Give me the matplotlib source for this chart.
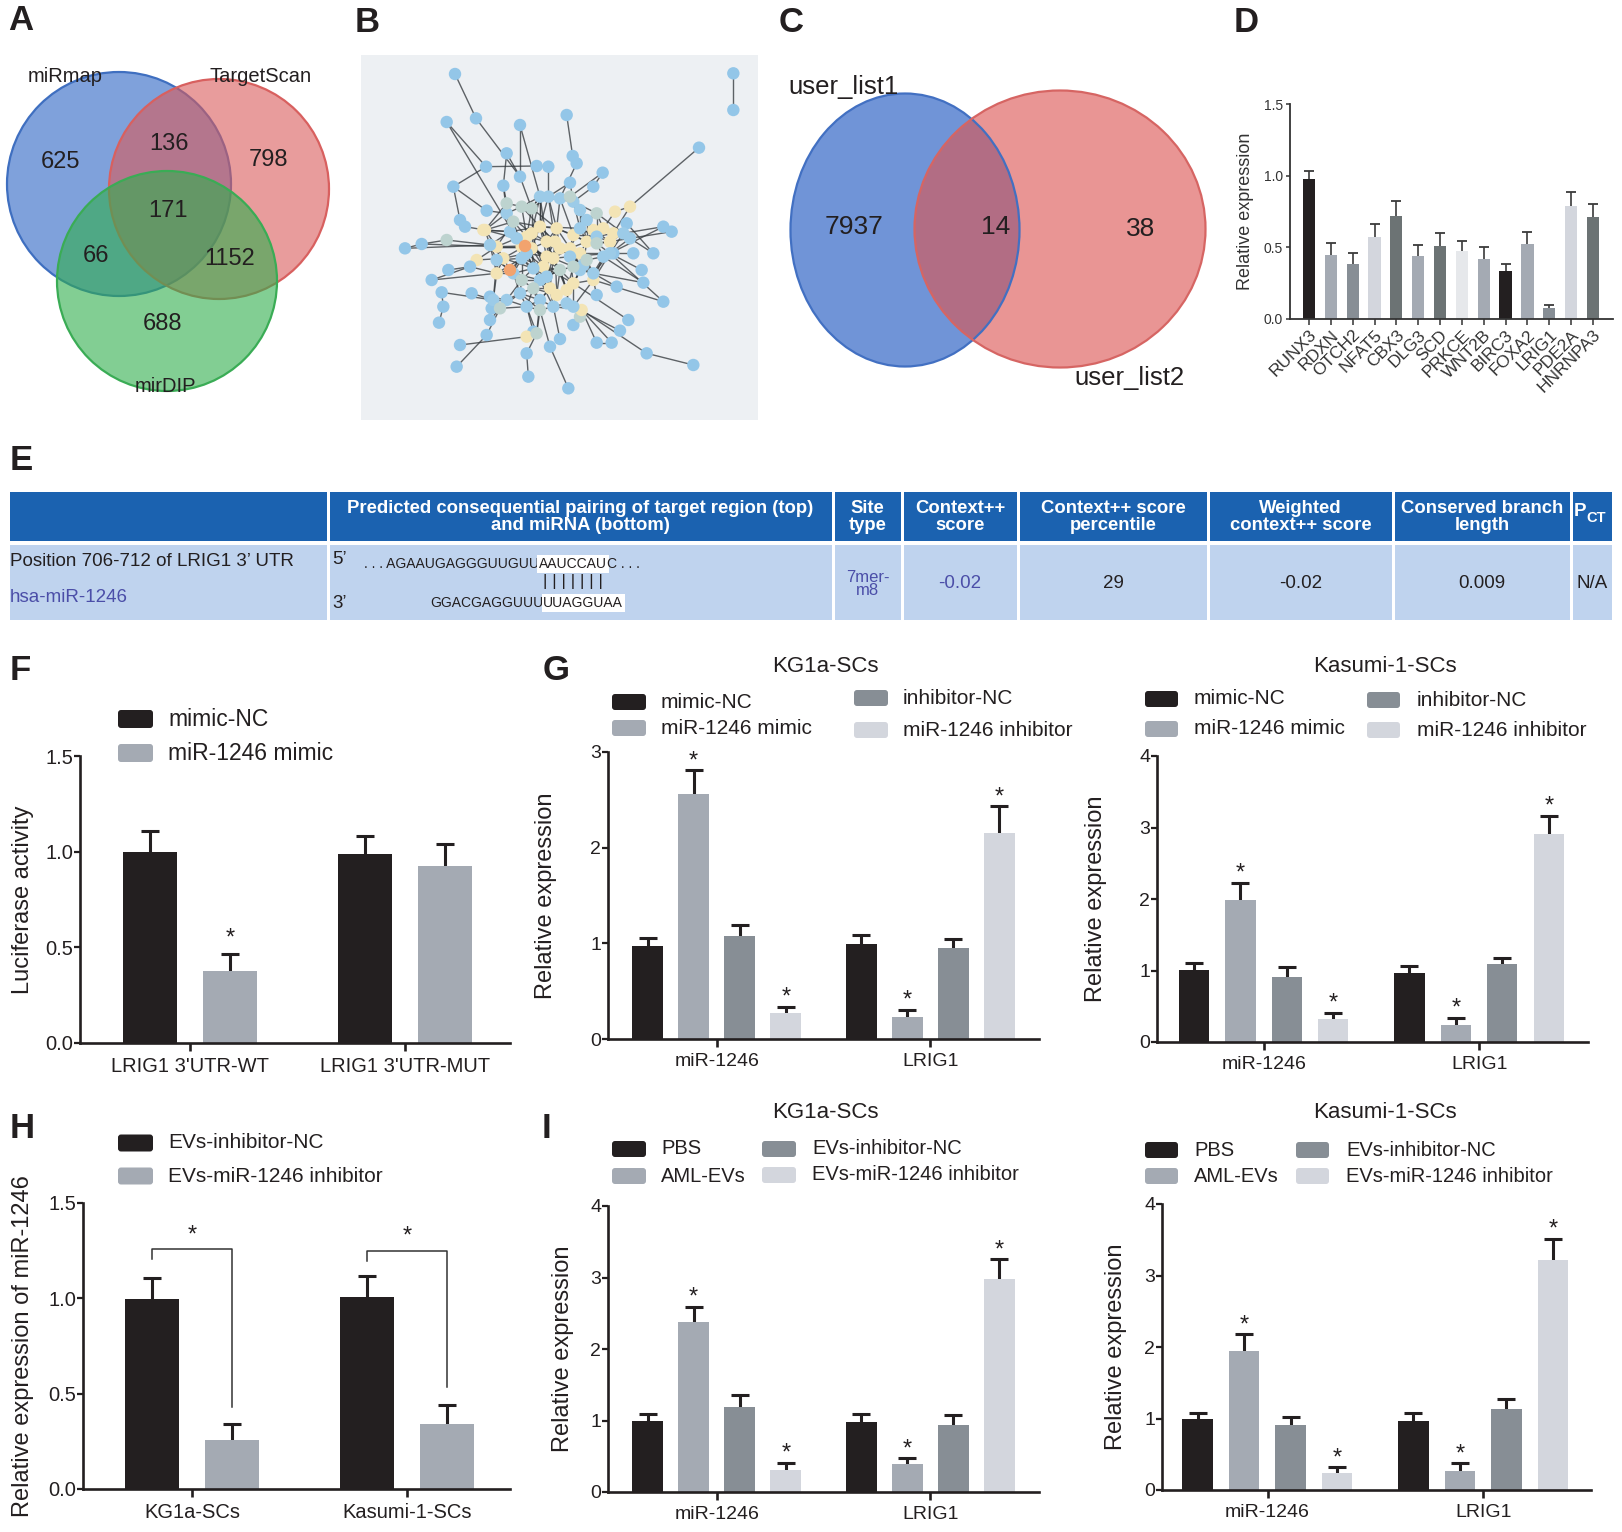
import numpy as np
import matplotlib
matplotlib.use('Agg')
import matplotlib.pyplot as plt
from matplotlib.patches import Circle, Ellipse, Rectangle, FancyBboxPatch
from matplotlib.collections import LineCollection

W, H = 1622, 1532
plt.rcParams['font.family'] = ['Liberation Sans', 'DejaVu Sans']

INK = '#231f20'
C_BLACK = '#231f20'
C_GREY = '#a4aab3'
C_DARK = '#878e95'
C_LIGHT = '#d3d6dd'
C_SLATE = '#6c7374'
C_PALE = '#e6e8eb'

# ---------------- data ----------------
# A: three-set Venn (regions: miRmap only, miRmap&TS, TS only, all, miRmap&mirDIP, TS&mirDIP, mirDIP only)
a_sets = ['miRmap', 'TargetScan', 'mirDIP']
a_counts = [625, 136, 798, 171, 66, 1152, 688]

# C: two-set Venn
c_sets = ['user_list1', 'user_list2']
c_counts = [7937, 14, 38]

# D: candidate genes
d_genes = ['RUNX3', 'RDXN', 'OTCH2', 'NFAT5', 'CBX3', 'DLG3', 'SCD', 'PRKCE',
           'WNT2B', 'BIRC3', 'FOXA2', 'LRIG1', 'PDE2A', 'HNRNPA3']
d_vals = [0.98, 0.445, 0.385, 0.57, 0.72, 0.437, 0.51, 0.472, 0.42, 0.333, 0.526, 0.075, 0.79, 0.71]
d_err = [1.03, 0.528, 0.463, 0.66, 0.82, 0.514, 0.598, 0.544, 0.50, 0.384, 0.607, 0.10, 0.884, 0.805]
d_colors = [C_BLACK, C_GREY, C_DARK, C_LIGHT, C_SLATE, C_GREY, C_SLATE, C_PALE,
            C_GREY, C_BLACK, C_GREY, C_DARK, C_LIGHT, C_SLATE]

# E: TargetScan table
e_header = ['', 'Predicted consequential pairing of target region (top)\nand miRNA (bottom)',
            'Site\ntype', 'Context++\nscore', 'Context++ score\npercentile',
            'Weighted\ncontext++ score', 'Conserved branch\nlength']
e_site = 'Position 706-712 of LRIG1 3\u2019 UTR'
e_mirna = 'hsa-miR-1246'
e_top_seq = ['. . . AGAAUGAGGGUUGUU', 'AAUCCAU', 'C . . .']
e_bot_seq = ['GGACGAGGUUU', 'UUAGGUAA']
e_values = ['7mer-\nm8', '-0.02', '29', '-0.02', '0.009', 'N/A']
e_value_colors = ['#4b4ea8', '#4b4ea8', INK, INK, INK, INK]

# F: luciferase
f_groups = ["LRIG1 3'UTR-WT", "LRIG1 3'UTR-MUT"]
f_series = ['mimic-NC', 'miR-1246 mimic']
f_vals = [[1.00, 0.987], [0.377, 0.926]]
f_err = [[1.109, 1.081], [0.467, 1.04]]
f_stars = [(1, 0)]  # (series, group)

# G: transfection
g_groups = ['miR-1246', 'LRIG1']
g_series = ['mimic-NC', 'miR-1246 mimic', 'inhibitor-NC', 'miR-1246 inhibitor']
g_kg1a_vals = [[0.973, 0.994], [2.56, 0.227], [1.078, 0.949], [0.269, 2.152]]
g_kg1a_err = [[1.053, 1.088], [2.81, 0.303], [1.193, 1.043], [0.335, 2.431]]
g_kasumi_vals = [[1.012, 0.965], [1.99, 0.238], [0.914, 1.086], [0.322, 2.904]]
g_kasumi_err = [[1.105, 1.063], [2.228, 0.336], [1.049, 1.17], [0.406, 3.161]]

# H: EV miR-1246
h_groups = ['KG1a-SCs', 'Kasumi-1-SCs']
h_series = ['EVs-inhibitor-NC', 'EVs-miR-1246 inhibitor']
h_vals = [[0.998, 1.005], [0.258, 0.342]]
h_err = [[1.109, 1.116], [0.34, 0.438]]
h_bracket = [[1.205, 1.257, 0.432], [1.196, 1.249, 0.537]]  # left start, top, right end

# I: EV treatment
i_groups = ['miR-1246', 'LRIG1']
i_series = ['PBS', 'AML-EVs', 'EVs-inhibitor-NC', 'EVs-miR-1246 inhibitor']
i_kg1a_vals = [[0.995, 0.986], [2.377, 0.391], [1.186, 0.944], [0.312, 2.977]]
i_kg1a_err = [[1.088, 1.088], [2.59, 0.474], [1.358, 1.079], [0.405, 3.256]]
i_kasumi_vals = [[0.988, 0.965], [1.949, 0.27], [0.909, 1.128], [0.233, 3.217]]
i_kasumi_err = [[1.072, 1.072], [2.177, 0.373], [1.026, 1.273], [0.317, 3.51]]
gi_stars = [(1, 0), (1, 1), (3, 0), (3, 1)]

# B: interaction network (positions, 3x crop frame)
net_nodes = [
    (345, 102, 'p'), (408, 235, 'p'), (320, 246, 'p'), (540, 255, 'p'), (680, 225, 'p'),
    (500, 340, 'p'), (438, 380, 'p'), (590, 378, 'p'), (625, 380, 'p'), (698, 348, 'p'),
    (710, 370, 'p'), (788, 398, 'p'), (1077, 323, 'p'), (340, 440, 'p'), (490, 437, 'p'),
    (540, 410, 'p'), (760, 440, 'p'), (690, 428, 'p'), (870, 500, 'b'), (825, 515, 'b'),
    (970, 560, 'p'), (995, 575, 'p'), (860, 550, 'p'), (360, 540, 'p'), (375, 560, 'p'),
    (440, 512, 'p'), (430, 570, 'b'), (320, 600, 'g'), (245, 612, 'p'), (195, 625, 'p'),
    (410, 660, 'b'), (325, 690, 'p'), (275, 720, 'p'), (305, 757, 'p'), (310, 800, 'p'),
    (297, 848, 'p'), (390, 680, 'p'), (395, 760, 'p'), (450, 770, 'p'), (455, 805, 'p'),
    (450, 840, 'p'), (440, 885, 'p'), (360, 915, 'p'), (350, 980, 'p'), (560, 940, 'p'),
    (565, 1010, 'p'), (580, 875, 'p'), (630, 920, 'p'), (660, 897, 'p'), (685, 1045, 'p'),
    (770, 908, 'p'), (815, 908, 'p'), (840, 872, 'p'), (865, 840, 'p'), (920, 940, 'p'),
    (1060, 975, 'p'), (970, 785, 'p'), (910, 728, 'p'), (905, 690, 'p'), (940, 640, 'p'),
    (880, 640, 'p'), (820, 640, 'p'), (830, 740, 'p'), (770, 765, 'p'), (700, 855, 'p'),
    (720, 830, 'g'), (1180, 100, 'p'), (1180, 210, 'p'),
    (600, 560, 'b'), (650, 565, 'b'), (575, 580, 'b'), (620, 605, 'b'), (645, 605, 'b'),
    (560, 590, 'b'), (545, 620, 'b'), (575, 625, 'b'), (640, 655, 'b'), (610, 680, 'b'),
    (620, 650, 'b'), (660, 625, 'b'), (690, 625, 'b'), (700, 585, 'b'), (760, 570, 'b'),
    (790, 565, 'b'), (820, 580, 'b'), (810, 605, 'b'), (740, 605, 'b'), (720, 640, 'b'),
    (700, 730, 'b'), (680, 750, 'b'), (650, 765, 'b'), (630, 745, 'b'), (760, 720, 'b'),
    (470, 700, 'b'), (490, 655, 'b'), (470, 620, 'b'), (435, 570, 'b'), (560, 890, 'b'),
    (725, 810, 'b'),
    (600, 470, 'l'), (625, 470, 'l'), (660, 475, 'l'), (700, 485, 'l'), (720, 510, 'l'),
    (740, 540, 'l'), (720, 565, 'l'), (510, 575, 'l'), (530, 595, 'l'), (560, 640, 'l'),
    (545, 655, 'l'), (580, 685, 'l'), (600, 720, 'l'), (620, 710, 'l'), (690, 650, 'l'),
    (730, 675, 'l'), (790, 650, 'l'), (810, 640, 'l'), (770, 590, 'l'), (850, 580, 'l'),
    (870, 595, 'l'), (500, 520, 'l'), (450, 615, 'l'), (470, 660, 'l'), (520, 700, 'l'),
    (540, 760, 'l'), (500, 780, 'l'), (460, 780, 'l'), (560, 800, 'l'), (600, 780, 'l'),
    (640, 800, 'l'), (680, 790, 'l'), (700, 800, 'l'), (720, 690, 'l'), (760, 700, 'l'),
    (500, 490, 'g'), (545, 500, 'g'), (575, 505, 'g'), (520, 545, 'g'), (690, 470, 'g'),
    (770, 520, 'g'), (740, 660, 'g'), (660, 690, 'g'), (700, 680, 'g'), (770, 610, 'g'),
    (545, 720, 'g'), (580, 745, 'g'), (480, 805, 'g'), (590, 880, 'g'), (600, 810, 'g'),
    (555, 618, 'o'), (510, 690, 'o'),
]
net_edges = """
0-1 1-15 15-136 2-6 6-13 6-7 7-8 8-100 5-15 5-14 14-134 14-120 3-15 3-99 4-9 9-10 10-101
11-16 11-138 16-102 17-100 17-102 12-18 18-19 18-84 19-83 20-21 20-118 21-119 22-118 13-25
13-23 23-24 24-96 25-120 26-96 26-106 27-28 28-29 27-121 28-95 30-95 30-94 31-36 32-93 33-34
34-35 33-126 36-93 37-126 38-125 39-146 40-146 41-146 42-97 43-41 44-45 44-147 46-147 46-127
47-49 47-148 48-129 50-51 50-98 51-98 52-131 53-88 54-55 54-98 56-92 57-133 58-116 59-119
60-116 61-115 62-133 63-92 64-98 65-131 66-67 56-116 57-115 59-22 20-116 29-121 32-36 2-74
68-69 68-70 68-71 68-73 68-99 68-100 68-105 68-106 69-71 69-72 69-81 69-101 70-73 70-75 70-107
71-72 71-75 71-78 72-79 72-80 73-74 73-106 73-149 74-75 74-108 74-95 75-78 75-108 76-77 76-78
76-79 76-113 77-110 77-112 77-141 78-79 79-80 80-81 80-87 80-113 81-105 81-86 82-83 82-86
82-104 83-84 84-85 85-86 85-116 86-87 86-117 87-113 87-114 88-89 88-132 88-92 89-90 89-130
90-91 90-129 91-111 91-112 92-133 93-94 93-150 94-95 95-96 96-121 97-147 98-131 99-100 99-135
100-101 101-138 102-103 103-104 104-105 104-139 105-117 106-107 106-137 107-149 108-109
108-149 109-110 109-150 110-111 111-112 111-145 112-141 113-142 114-140 114-132 115-116
115-140 116-143 117-143 117-82 118-119 118-84 120-134 120-137 121-122 122-93 123-144 123-150
124-125 124-145 125-126 127-128 128-148 129-130 130-131 132-142 133-140 134-135 135-136
136-99 137-107 138-102 139-104 141-142 144-145 145-128 146-125 147-148 148-127
68-78 68-79 69-80 70-108 71-76 72-113 73-107 74-109 75-77 76-141 77-91 78-112 79-87 80-142
81-117 82-85 86-143 87-140 88-141 89-142 90-145 91-128 93-109 94-108 95-149 96-106 99-102
100-138 103-82 104-81 105-86 106-149 107-74 108-110 110-144 111-90 112-76 113-114 114-88
115-92 116-118 117-85 119-116 120-106 121-95 122-150 123-110 124-127 125-146 126-122
127-145 128-129 129-91 130-89 131-88 132-140 133-115 134-137 135-68 136-70 137-73 139-83
140-92 141-111 142-87 143-85 144-124 145-148 146-124 147-127 149-78 150-144
68-76 69-77 70-112 71-89 72-90 73-111 74-123 75-141 99-71 100-72 101-81 102-105 103-86
106-75 107-78 108-77 109-91 110-112 111-129 113-88 114-92 120-70 121-94 122-123 123-111
124-128 125-127 96-107 95-74 94-110 93-123 137-68 134-106 135-73 136-69 138-101 139-117
143-82 140-113 141-90 142-114
68-72 68-75 69-79 69-86 70-71 70-74 71-73 71-79 72-76 72-78 73-75 74-149 75-149 76-80 77-78
77-109 78-110 79-113 80-86 81-82 81-104 82-117 83-117 84-117 85-143 86-114 87-116 88-140
89-141 90-112 91-145 92-116 93-121 94-149 95-107 96-137 99-68 99-136 100-69 101-102 102-139
103-105 104-86 105-80 106-108 107-108 108-111 109-123 110-141 111-144 112-90 113-116 114-133
115-143 116-84 117-104 118-85 119-85 120-96 121-106 122-109 123-124 124-148 125-144 126-93
127-146 128-91 129-98 130-98 131-92 132-133 133-116 134-96 135-120 136-100 137-95 138-103
139-118 140-142 141-89 142-76 143-86 144-109 145-112 146-38 147-128 148-129 149-109 150-94
70-99 73-136 74-137 75-110 76-91 77-88 78-108 79-114 80-140 81-139
"""
net_colors = {'p': '#93c6e8', 'l': '#9ccbe8', 'b': '#f3e4b5', 'g': '#bdd3cf', 'o': '#f2a36e'}

# ---------------- figure ----------------
fig = plt.figure(figsize=(W / 100, H / 100), dpi=100)


def px_axes(l, t, r, b):
    return fig.add_axes([l / W, 1 - b / H, (r - l) / W, (b - t) / H])


bg = px_axes(0, 0, W, H)
bg.set_xlim(0, W)
bg.set_ylim(H, 0)
bg.axis('off')
bg.patch.set_visible(False)
bg.set_zorder(10)

# panel letters
for letter, (lx, ly) in zip('ABCDEFGHI', [(21, 21), (367, 23), (791, 23), (1246, 23), (21, 460),
                                         (20, 670), (556, 670), (22, 1128), (546, 1128)]):
    bg.text(lx, ly, letter, fontsize=25, fontweight='bold', ha='center', va='center', color=INK)

# ---- A ----
a_circles = [((119, 184), 112, '#2a63c3', '#3f6fc0'),
             ((219, 189), 110, '#d95a5a', '#d8605f'),
             ((167, 281), 110, '#2fae4c', '#3aac55')]
for (cc, rr, fc, ec) in a_circles:
    bg.add_patch(Circle(cc, rr, facecolor=fc, alpha=0.6, edgecolor='none'))
    bg.add_patch(Circle(cc, rr, fill=False, edgecolor=ec, lw=1.6))
for name, pos in zip(a_sets, [(65, 77), (261, 77), (165, 387)]):
    bg.text(*pos, name, fontsize=14.5, ha='center', va='center', color=INK)
for n, pos in zip(a_counts, [(60, 162), (169, 144), (269, 160), (168, 211), (96, 256), (230, 259), (163, 324)]):
    bg.text(*pos, str(n), fontsize=17, ha='center', va='center', color=INK)

# ---- B ----
bg.add_patch(Rectangle((361, 55), 397, 365, facecolor='#edf0f3', edgecolor='none'))
nx = np.array([340 + n[0] / 3 for n in net_nodes])
ny = np.array([40 + n[1] / 3 for n in net_nodes])
edges = [tuple(map(int, e.split('-'))) for e in net_edges.split()]
segs = [[(nx[a], ny[a]), (nx[b], ny[b])] for a, b in edges]
bg.add_collection(LineCollection(segs, colors='#353a3e', linewidths=1.0, alpha=0.78))
bg.scatter(nx, ny, s=80, c=[net_colors[n[2]] for n in net_nodes], edgecolors='none', zorder=3)

# ---- C ----
bg.add_patch(Ellipse((905, 230), 229, 273, facecolor='#2d62c4', alpha=0.68, edgecolor='none'))
bg.add_patch(Ellipse((1060, 229), 291, 277, facecolor='#dc5552', alpha=0.62, edgecolor='none'))
bg.add_patch(Ellipse((905, 230), 229, 273, fill=False, edgecolor='#4270c2', lw=1.6))
bg.add_patch(Ellipse((1060, 229), 291, 277, fill=False, edgecolor='#d66563', lw=1.6))
for name, pos in zip(c_sets, [(843, 87), (1129, 378)]):
    bg.text(*pos, name, fontsize=18.5, ha='center', va='center', color=INK)
for n, pos in zip(c_counts, [(854, 227), (996, 227), (1141, 229)]):
    bg.text(*pos, str(n), fontsize=19, ha='center', va='center', color=INK)

# ---- D ----
axd = px_axes(1290, 104, 1613, 319)
xd = np.arange(len(d_genes))
axd.bar(xd, d_vals, 0.56, color=d_colors, zorder=2)
axd.vlines(xd, d_vals, d_err, color='#3a3a3a', lw=1.2, zorder=1)
axd.plot(xd, d_err, ls='none', marker='_', ms=7.5, mew=1.3, color='#3a3a3a')
axd.set_xlim(-0.87, 13.92)
axd.set_ylim(0, 1.5)
axd.set_yticks([0, 0.5, 1.0, 1.5], ['0.0', '0.5', '1.0', '1.5'])
axd.set_xticks(xd, d_genes, rotation=45, ha='right', rotation_mode='anchor')
axd.set_ylabel('Relative expression', fontsize=13, color='#333333', va='center')
axd.yaxis.set_label_coords((1245 - 1290) / (1613 - 1290), 0.5)
for s in ['top', 'right']:
    axd.spines[s].set_visible(False)
for s in ['left', 'bottom']:
    axd.spines[s].set_linewidth(1.3)
    axd.spines[s].set_color('#333333')
axd.tick_params(axis='y', labelsize=10, length=3, width=1.1, colors='#333333', pad=2)
axd.tick_params(axis='x', labelsize=12.5, length=4, width=1.1, colors='#333333', pad=2)
axd.patch.set_visible(False)

# ---- E ----
e_cols = [8, 328, 833, 902, 1018, 1208, 1393, 1571, 1613]
for k in range(len(e_cols) - 1):
    x0, x1 = e_cols[k] + 1.5, e_cols[k + 1] - 1.5
    bg.add_patch(Rectangle((x0, 492), x1 - x0, 49, facecolor='#1b62b0', edgecolor='none'))
    bg.add_patch(Rectangle((x0, 545), x1 - x0, 75, facecolor='#bfd3ee', edgecolor='none'))
for k, txt in enumerate(e_header):
    cx = (e_cols[k] + e_cols[k + 1]) / 2
    bg.text(cx, 517, txt, fontsize=13.3, fontweight='bold', color='white', ha='center', va='center',
            linespacing=0.95)
bg.text(1580, 512, 'P', fontsize=13.5, fontweight='bold', color='white', ha='center', va='center')
bg.text(1596, 518, 'CT', fontsize=10.5, fontweight='bold', color='white', ha='center', va='center')
bg.text(10, 561, e_site, fontsize=13.5, color=INK, ha='left', va='center')
bg.text(10, 598, e_mirna, fontsize=13.5, color='#4b4ea8', ha='left', va='center')
bg.text(332, 560, '5\u2019', fontsize=13.5, color=INK, ha='left', va='center')
bg.text(332, 603, '3\u2019', fontsize=13.5, color=INK, ha='left', va='center')
t1 = bg.text(364, 564, e_top_seq[0], fontsize=10, color=INK, ha='left', va='center')
t2 = bg.annotate(e_top_seq[1], xy=(1, 0.5), xycoords=t1, fontsize=10, color=INK, ha='left', va='center',
                 bbox=dict(facecolor='white', edgecolor='none', pad=1.2))
bg.annotate(e_top_seq[2], xy=(1, 0.5), xycoords=t2, fontsize=10, color=INK, ha='left', va='center')
bg.annotate('| | | | | | |', xy=(0.5, 0), xycoords=t2, xytext=(0, -2.5), textcoords='offset points',
            fontsize=12.5, color=INK, ha='center', va='top')
t4 = bg.text(430, 603, e_bot_seq[0], fontsize=10, color=INK, ha='left', va='center')
bg.annotate(e_bot_seq[1], xy=(1, 0.5), xycoords=t4, fontsize=10, color=INK, ha='left', va='center',
            bbox=dict(facecolor='white', edgecolor='none', pad=1.2))
for k, (txt, col) in enumerate(zip(e_values, e_value_colors)):
    cx = (e_cols[k + 2] + e_cols[k + 3]) / 2
    fs = 12 if k == 0 else 13.5
    bg.text(cx, 584, txt, fontsize=fs, color=col, ha='center', va='center', linespacing=0.8)


# ---- bar panels ----
def bar_panel(box, xlim, ymax, yticks, yfmt, groups, vals, errs, colors, offsets, width,
              ylabel, ylab_x, fs_tick=14, fs_lab=17, stars=(), star_dy=6.5, cap_ms=12.5):
    l, t, r, b = box
    ax = px_axes(l, t, r, b)
    ax.patch.set_visible(False)
    x = np.arange(len(groups))
    for k, (v, e) in enumerate(zip(vals, errs)):
        xs = x + offsets[k]
        ax.bar(xs, v, width, color=colors[k], zorder=2)
        ax.vlines(xs, v, e, color=INK, lw=2.2, zorder=1)
        ax.plot(xs, e, ls='none', marker='_', ms=cap_ms, mew=2.2, color=INK, zorder=3)
    for k, g in stars:
        ax.annotate('*', (g + offsets[k], errs[k][g]), xytext=(0, star_dy), textcoords='offset points',
                    ha='center', va='center', fontsize=17, color=INK)
    ax.set_xlim(*xlim)
    ax.set_ylim(0, ymax)
    ax.set_yticks(yticks, [yfmt % v for v in yticks])
    ax.set_xticks(x, groups)
    ax.set_ylabel(ylabel, fontsize=fs_lab, color=INK, va='center')
    ax.yaxis.set_label_coords((ylab_x - l) / (r - l), 0.5)
    for s in ['top', 'right']:
        ax.spines[s].set_visible(False)
    for s in ['left', 'bottom']:
        ax.spines[s].set_linewidth(1.9)
        ax.spines[s].set_color(INK)
    ax.tick_params(axis='y', labelsize=fs_tick, length=4, width=1.6, colors=INK, pad=1)
    ax.tick_params(axis='x', labelsize=fs_tick, length=6, width=1.9, colors=INK, pad=4)
    return ax


def legend_block(col_x, text_x, rows_y, labels, colors, fs, pw, ph=16):
    k = 0
    for cx, tx, ys in zip(col_x, text_x, rows_y):
        for y in ys:
            bg.add_patch(FancyBboxPatch((cx, y - ph / 2), pw, ph,
                                        boxstyle='round,pad=0,rounding_size=3',
                                        facecolor=colors[k], edgecolor='none'))
            bg.text(tx, y, labels[k], fontsize=fs, color=INK, ha='left', va='center')
            k += 1


two_cols = [C_BLACK, C_GREY]
four_cols = [C_BLACK, C_GREY, C_DARK, C_LIGHT]
off2 = [-0.186, 0.186]
off4 = [-0.324, -0.108, 0.107, 0.323]

# F
bar_panel((80, 756, 510, 1043), (-0.512, 1.49), 1.5, [0, 0.5, 1.0, 1.5], '%.1f', f_groups,
          f_vals, f_err, two_cols, off2, 0.251, 'Luciferase activity', 23,
          fs_tick=14.5, stars=f_stars, star_dy=11)
legend_block([118], [168], [[719, 753]], f_series, two_cols, 16.5, 35, 18)

# G
bar_panel((608, 752, 1039, 1039), (-0.509, 1.508), 3, [0, 1, 2, 3], '%d', g_groups,
          g_kg1a_vals, g_kg1a_err, four_cols, off4, 0.145, 'Relative expression', 546,
          stars=gi_stars)
bg.text(825, 667, 'KG1a-SCs', fontsize=16, ha='center', va='center', color=INK)
legend_block([612, 854], [661, 903], [[702, 728], [698, 730]], g_series, four_cols, 15, 34)

bar_panel((1157, 756, 1588, 1042), (-0.495, 1.505), 4, [0, 1, 2, 3, 4], '%d', g_groups,
          g_kasumi_vals, g_kasumi_err, four_cols, off4, 0.141, 'Relative expression', 1096,
          stars=gi_stars)
bg.text(1385, 667, 'Kasumi-1-SCs', fontsize=16, ha='center', va='center', color=INK)
legend_block([1145, 1367], [1194, 1417], [[699, 729], [700, 730]], g_series, four_cols, 15, 33)

# H
axh = bar_panel((83, 1203, 510, 1489), (-0.507, 1.48), 1.5, [0, 0.5, 1.0, 1.5], '%.1f', h_groups,
                h_vals, h_err, two_cols, off2, 0.251, 'Relative expression of miR-1246', 23,
                fs_tick=14.5)
for g, (y0, ytop, y1) in enumerate(h_bracket):
    xa, xb = g + off2[0], g + off2[1]
    axh.plot([xa, xa, xb, xb], [y0, ytop, ytop, y1], color='#333333', lw=1.1, zorder=4)
    axh.annotate('*', ((xa + xb) / 2, ytop), xytext=(0, 10), textcoords='offset points',
                 ha='center', va='center', fontsize=17, color=INK)
legend_block([118], [168], [[1143, 1176]], h_series, two_cols, 15, 35, 17)

# I
bar_panel((608, 1206, 1039, 1492), (-0.509, 1.508), 4, [0, 1, 2, 3, 4], '%d', i_groups,
          i_kg1a_vals, i_kg1a_err, four_cols, off4, 0.145, 'Relative expression', 563,
          stars=gi_stars)
bg.text(825, 1113, 'KG1a-SCs', fontsize=16, ha='center', va='center', color=INK)
legend_block([612, 762], [661, 812], [[1149, 1176], [1149, 1175]], i_series, four_cols, 14.5, 34)

bar_panel((1162, 1204, 1591, 1490), (-0.489, 1.499), 4, [0, 1, 2, 3, 4], '%d', i_groups,
          i_kasumi_vals, i_kasumi_err, four_cols, off4, 0.141, 'Relative expression', 1116,
          stars=gi_stars)
bg.text(1385, 1112, 'Kasumi-1-SCs', fontsize=16, ha='center', va='center', color=INK)
legend_block([1145, 1296], [1194, 1346], [[1150, 1176], [1150, 1176]], i_series, four_cols, 14.5, 33)

fig.savefig('out.png', dpi=100)
